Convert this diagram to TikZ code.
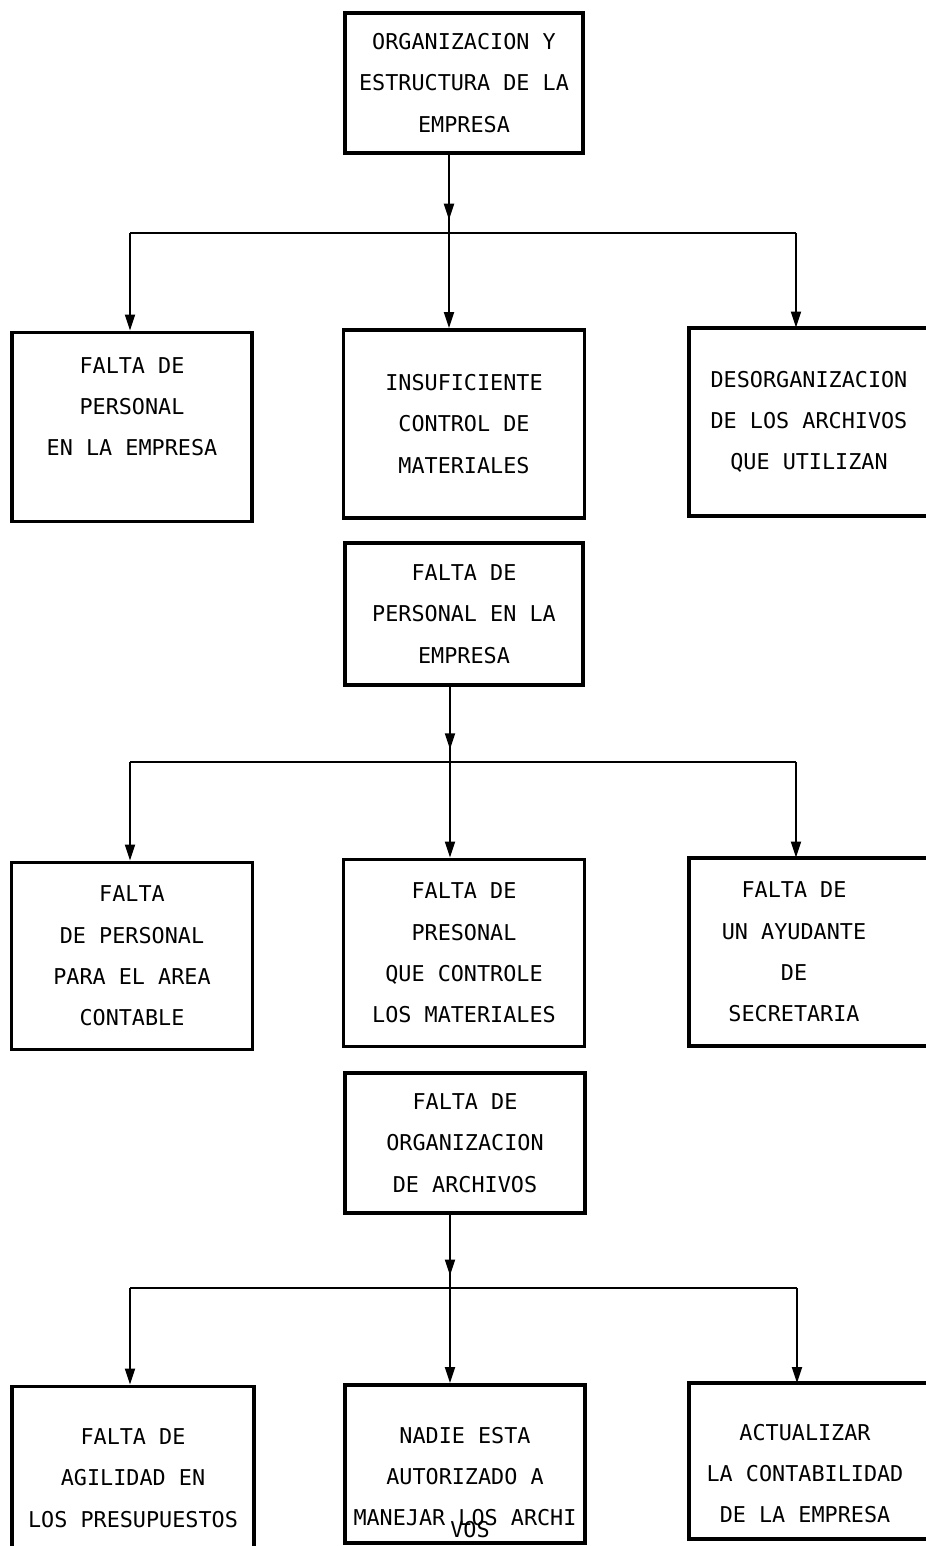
\documentclass[tikz,border=0pt]{standalone}
\usepackage{fontspec}
\newfontfamily\plotfont{DejaVu Sans Mono}
\newcommand\boxfont{\plotfont\fontsize{12.4}{23.5}\selectfont}
\usetikzlibrary{
	arrows.meta,
	decorations,
	decorations.markings}

\begin{document}
\begin{tikzpicture}[x=0.02cm,y=-0.02cm,>={Triangle[length=0.32cm,width=0.2cm]}]
		\tikzstyle{box}=[draw,line width=2.2pt,align=center,inner sep=0pt,font=\boxfont]
		\tikzstyle{openbox}=[box,draw=none]
		\tikzstyle{rim}=[line width=2.2pt]
		\tikzstyle{link}=[line width=1.1pt]
		\tikzstyle{midarrow}=[link,postaction={decorate},
							decoration={markings,mark=at position 0.83 with {\arrow{>}}}]

		\useasboundingbox (0,0) rectangle (926,1546);
		\clip (0,0) rectangle (926,1546);

		% top
		\node[box,minimum width=4.76cm,minimum height=2.8cm] (org) at (464,83) {ORGANIZACION Y\\ESTRUCTURA DE LA\\EMPRESA};

		% first level
		\node[box,minimum width=4.8cm,minimum height=3.78cm] (personal) at (132,427) {FALTA DE\\PERSONAL\\EN LA EMPRESA\\\mbox{}};
		\node[box,minimum width=4.82cm,minimum height=3.76cm] (control) at (464,424) {INSUFICIENTE\\CONTROL DE\\MATERIALES};
		\node[openbox,minimum width=4.72cm,minimum height=3.7cm] (archivos) at (809,422) {DESORGANIZACION\\DE LOS ARCHIVOS\\QUE UTILIZAN};
		\draw[rim] ([xshift=1cm]archivos.north east) -- (archivos.north west) -- (archivos.south west) -- ([xshift=1cm]archivos.south east);

		% second level
		\node[box,minimum width=4.76cm,minimum height=2.84cm] (falta) at (464,614) {FALTA DE\\PERSONAL EN LA\\EMPRESA};
		\node[box,minimum width=4.82cm,minimum height=3.74cm] (contable) at (132,956) {FALTA\\DE PERSONAL\\PARA EL AREA\\CONTABLE};
		\node[box,minimum width=4.82cm,minimum height=3.74cm] (materiales) at (464,953) {FALTA DE\\PRESONAL\\QUE CONTROLE\\LOS MATERIALES};
		\node[openbox,minimum width=4.12cm,minimum height=3.7cm] (secretaria) at (794,952) {FALTA DE\\UN AYUDANTE\\DE\\SECRETARIA};
		\draw[rim] ([xshift=1cm]secretaria.north east) -- (secretaria.north west) -- (secretaria.south west) -- ([xshift=1cm]secretaria.south east);

		% third level
		\node[box,minimum width=4.8cm,minimum height=2.8cm] (orgarch) at (465,1143) {FALTA DE\\ORGANIZACION\\DE ARCHIVOS};
		\node[box,minimum width=4.84cm,minimum height=3.66cm] (agilidad) at (133,1478) {FALTA DE\\AGILIDAD EN\\LOS PRESUPUESTOS};
		\node[box,minimum width=4.8cm,minimum height=3.16cm] (manejo) at (465,1464) {\mbox{}\\NADIE ESTA\\AUTORIZADO A\\MANEJAR LOS ARCHI};
		\node[font=\boxfont,inner sep=0pt] (vos) at (470,1530) {VOS};
		\node[openbox,minimum width=4.56cm,minimum height=3.04cm] (contabilidad) at (805,1461) {\mbox{}\\ACTUALIZAR\\LA CONTABILIDAD\\DE LA EMPRESA};
		\draw[rim] ([xshift=1cm]contabilidad.north east) -- (contabilidad.north west) -- (contabilidad.south west) -- ([xshift=1cm]contabilidad.south east);

		% buses
		\coordinate (j1) at (449,233);
		\coordinate (j1l) at (130,233);
		\coordinate (j1r) at (796,233);
		\coordinate (j2) at (450,762);
		\coordinate (j2l) at (130,762);
		\coordinate (j2r) at (796,762);
		\coordinate (j3) at (450,1288);
		\coordinate (j3l) at (130,1288);
		\coordinate (j3r) at (797,1288);

		% edges
		\draw[midarrow] (org.south -| j1) -- (j1);
		\draw[midarrow] (falta.south -| j2) -- (j2);
		\draw[midarrow] (orgarch.south -| j3) -- (j3);

		\foreach \n in {1,2,3}
			\draw[link] (j\n l) -- (j\n r);

		\foreach \a/\b in {j1l/personal, j1/control, j1r/archivos,
						   j2l/contable, j2/materiales, j2r/secretaria,
						   j3l/agilidad, j3/manejo, j3r/contabilidad}
			\draw[link,->] (\a) -- (\a |- \b.north);

\end{tikzpicture}
\end{document}
